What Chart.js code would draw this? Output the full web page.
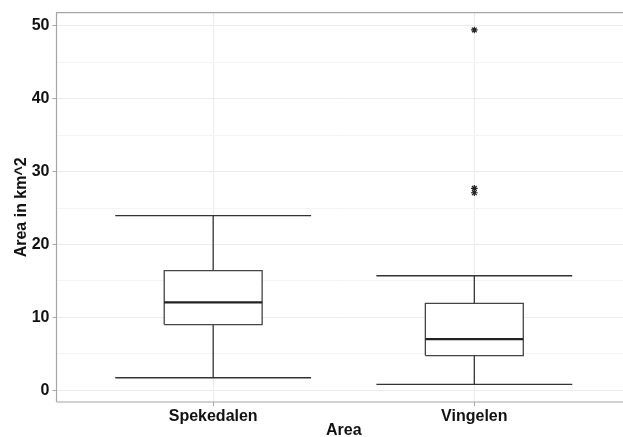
<!DOCTYPE html>
<html>
<head>
<meta charset="utf-8">
<script src="https://cdn.jsdelivr.net/npm/chart.js@4/dist/chart.umd.min.js"></script>
<style>
  html, body { margin: 0; padding: 0; background: #ffffff; overflow: hidden; }
  #wrap { width: 623px; height: 437px; }
</style>
</head>
<body>
<div id="wrap"><canvas id="c" width="623" height="437"></canvas></div>
<script>
// ---- Data ----
const categories   = ['Spekedalen', 'Vingelen'];
const lowerWhisker = [1.7, 0.8];
const q1           = [9.0, 4.75];
const median       = [12.05, 7.0];
const q3           = [16.4, 11.9];
const upperWhisker = [23.95, 15.7];
const outliers     = [[], [49.45, 27.7, 27.1]];
const yTicks       = [0, 5, 10, 15, 20, 25, 30, 35, 40, 45, 50];
const yLabelTicks  = [0, 10, 20, 30, 40, 50];

// ---- Geometry in data units (category positions 1, 2) ----
const BOX_HALF = 0.1875;
const CAP_HALF = 0.375;
const LINE = '#333333';

const medianData = [], boxData = [], whiskerData = [], outlierData = [];
categories.forEach((name, i) => {
  const c = i + 1;
  medianData.push({ x: c - BOX_HALF, y: median[i] }, { x: c + BOX_HALF, y: median[i] }, { x: c, y: null });
  boxData.push([
    { x: c - BOX_HALF, y: q1[i] }, { x: c - BOX_HALF, y: q3[i] },
    { x: c + BOX_HALF, y: q3[i] }, { x: c + BOX_HALF, y: q1[i] },
    { x: c - BOX_HALF, y: q1[i] }
  ]);
  whiskerData.push(
    { x: c - CAP_HALF, y: lowerWhisker[i] }, { x: c + CAP_HALF, y: lowerWhisker[i] }, { x: c, y: null },
    { x: c, y: lowerWhisker[i] }, { x: c, y: q1[i] }, { x: c, y: null },
    { x: c, y: q3[i] }, { x: c, y: upperWhisker[i] }, { x: c, y: null },
    { x: c - CAP_HALF, y: upperWhisker[i] }, { x: c + CAP_HALF, y: upperWhisker[i] }, { x: c, y: null }
  );
  outliers[i].forEach(v => outlierData.push({ x: c, y: v }));
});

const baseLine = { type: 'line', pointRadius: 0, pointHoverRadius: 0, tension: 0, spanGaps: false, borderColor: LINE };

const datasets = [
  { ...baseLine, label: 'outliers', data: outlierData, showLine: false, pointStyle: 'star',
    pointRadius: 3.3, pointBorderColor: '#222', pointBorderWidth: 1.2, pointBackgroundColor: '#222' },
  { ...baseLine, label: 'median', data: medianData, borderWidth: 2.2, borderColor: '#222', fill: false },
  ...boxData.map((d, i) => ({ ...baseLine, label: 'box' + i, data: d, borderWidth: 1.3,
    borderColor: '#444', backgroundColor: '#ffffff', fill: 'shape' })),
  { ...baseLine, label: 'whiskers', data: whiskerData, borderWidth: 1.3, fill: false }
];

const FONT = { family: '"Liberation Sans", Arial, sans-serif', size: 16, weight: 'bold' };

// The reference panel runs past the right edge of the picture (cropped at ~631px).
const PANEL_RIGHT = 631;
const extendPanel = {
  id: 'extendPanel',
  afterLayout(chart) {
    const x = chart.scales.x;
    x.right = PANEL_RIGHT;
    x.width = PANEL_RIGHT - x.left;
    x.configure();
    chart.chartArea.right = PANEL_RIGHT;
    chart.chartArea.width = PANEL_RIGHT - chart.chartArea.left;
  }
};

const panelBorder = {
  id: 'panelBorder',
  afterDatasetsDraw(chart) {
    const { ctx, chartArea: a } = chart;
    ctx.save();
    ctx.strokeStyle = '#a6a6a6';
    ctx.lineWidth = 1.2;
    ctx.beginPath();
    ctx.moveTo(a.left, a.bottom);
    ctx.lineTo(a.left, a.top);
    ctx.lineTo(a.right, a.top);
    ctx.moveTo(a.left, a.bottom);
    ctx.lineTo(a.right, a.bottom);
    ctx.stroke();
    ctx.restore();
  }
};

new Chart(document.getElementById('c'), {
  data: { datasets },
  options: {
    responsive: false,
    animation: false,
    events: [],
    layout: { autoPadding: false, padding: { top: 12, left: 0, right: 0, bottom: 0 } },
    plugins: { legend: { display: false }, tooltip: { enabled: false }, title: { display: false } },
    scales: {
      x: {
        type: 'linear',
        min: 0.4,
        max: 2.6,
        afterBuildTicks: s => { s.ticks = categories.map((_, i) => ({ value: i + 1 })); },
        afterFit: s => { s.height = 35; s.paddingLeft = 0; s.paddingRight = 0; },
        ticks: {
          autoSkip: false, maxRotation: 0, padding: 1,
          color: '#111', font: FONT,
          callback: v => categories[Math.round(v) - 1] || ''
        },
        grid: { color: '#ebebeb', lineWidth: 1, tickLength: 4, tickColor: '#a6a6a6' },
        border: { display: false },
        title: { display: true, text: 'Area', color: '#111', font: FONT, padding: { top: 0, bottom: -3 } }
      },
      y: {
        type: 'linear',
        min: -1.63,
        max: 51.83,
        afterBuildTicks: s => { s.ticks = yTicks.map(v => ({ value: v })); },
        afterFit: s => { s.width = 56.5; },
        ticks: {
          autoSkip: false, padding: 3,
          color: '#111', font: FONT,
          callback: v => (yLabelTicks.includes(v) ? String(v) : '')
        },
        grid: {
          color: ctx => (yLabelTicks.includes(ctx.tick && ctx.tick.value) ? '#ebebeb' : '#f4f4f4'),
          lineWidth: 1, tickLength: 4,
          tickColor: ctx => (yLabelTicks.includes(ctx.tick && ctx.tick.value) ? '#a6a6a6' : 'rgba(0,0,0,0)')
        },
        border: { display: false },
        title: { display: true, text: 'Area in km^2', color: '#111', font: FONT, padding: { top: 12, bottom: 4 } }
      }
    }
  },
  plugins: [extendPanel, panelBorder]
});
</script>
</body>
</html>
